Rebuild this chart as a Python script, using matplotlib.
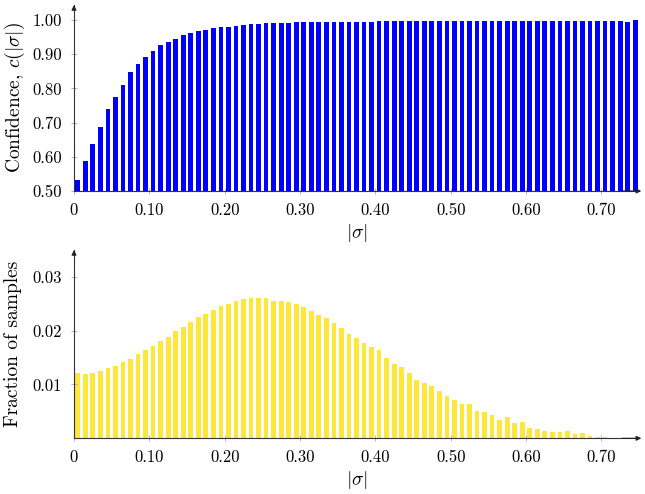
import numpy as np
import matplotlib
matplotlib.use("Agg")
import matplotlib.pyplot as plt

plt.rcParams["font.family"] = "serif"
plt.rcParams["font.serif"] = ["cmr10"]
plt.rcParams["mathtext.fontset"] = "cm"
plt.rcParams["axes.unicode_minus"] = False

# bin centres of |sigma| (bins of width 0.01)
sigma_bins = np.round(np.arange(75) * 0.01 + 0.005, 3)

confidence = [
    0.532, 0.587, 0.638, 0.687, 0.739, 0.775, 0.811, 0.847, 0.871, 0.891,
    0.910, 0.926, 0.936, 0.946, 0.957, 0.963, 0.969, 0.972, 0.976, 0.980,
    0.981, 0.984, 0.986, 0.987, 0.989, 0.990, 0.992, 0.992, 0.992, 0.993,
    0.993, 0.993, 0.994, 0.994, 0.994, 0.995, 0.995, 0.995, 0.995, 0.995,
    0.996, 0.996, 0.996, 0.996, 0.996, 0.996, 0.996, 0.997, 0.997, 0.997,
    0.997, 0.997, 0.997, 0.997, 0.997, 0.997, 0.996, 0.997, 0.997, 0.997,
    0.998, 0.998, 0.998, 0.998, 0.998, 0.998, 0.998, 0.998, 0.998, 0.998,
    0.998, 0.998, 0.998, 0.994, 0.999,
]

fraction = [
    0.0122, 0.0120, 0.0121, 0.0125, 0.0130, 0.0135, 0.0141, 0.0147, 0.0156, 0.0165,
    0.0172, 0.0180, 0.0189, 0.0199, 0.0206, 0.0216, 0.0225, 0.0231, 0.0238, 0.0245,
    0.0250, 0.0255, 0.0258, 0.0260, 0.0260, 0.0260, 0.0256, 0.0255, 0.0253, 0.0250,
    0.0244, 0.0237, 0.0230, 0.0223, 0.0215, 0.0205, 0.0194, 0.0186, 0.0178, 0.0169,
    0.0165, 0.0150, 0.0139, 0.0133, 0.0121, 0.0108, 0.0102, 0.0098, 0.0088, 0.0078,
    0.0071, 0.0064, 0.0064, 0.0050, 0.0048, 0.0043, 0.0034, 0.0039, 0.0029, 0.0030,
    0.0019, 0.0017, 0.0014, 0.0012, 0.0012, 0.0014, 0.0008, 0.0010, 0.0005, 0.0002,
    0.0003, 0.0001, 0.00005, 0.00003, 0.00002,
]

x_ticks = [0, 0.1, 0.2, 0.3, 0.4, 0.5, 0.6, 0.7]
x_ticklabels = ["0", "0.10", "0.20", "0.30", "0.40", "0.50", "0.60", "0.70"]
conf_ticks = [0.5, 0.6, 0.7, 0.8, 0.9, 1.0]
conf_ticklabels = ["0.50", "0.60", "0.70", "0.80", "0.90", "1.00"]
frac_ticks = [0.01, 0.02, 0.03]
frac_ticklabels = ["0.01", "0.02", "0.03"]

BAR_W = 0.0062
BLUE = "#0000ff"
YELLOW = "#fde73a"
TICK_FS = 12
LABEL_FS = 14


def style_axes(ax):
    for side in ["top", "right"]:
        ax.spines[side].set_visible(False)
    for side in ["left", "bottom"]:
        ax.spines[side].set_color("#333333")
        ax.spines[side].set_linewidth(0.8)
    ax.tick_params(direction="inout", length=4, width=0.6, color="#aaaaaa",
                   labelsize=TICK_FS, pad=6.5)
    # arrow heads at the end of both axis lines
    ax.annotate("", xy=(0, 1.0), xytext=(0, 0.97), xycoords="axes fraction",
                arrowprops=dict(arrowstyle="-|>", color="#222222", lw=0.8,
                                mutation_scale=7, shrinkA=0, shrinkB=0))
    ax.annotate("", xy=(1.004, 0), xytext=(0.97, 0), xycoords="axes fraction",
                arrowprops=dict(arrowstyle="-|>", color="#222222", lw=0.8,
                                mutation_scale=7, shrinkA=0, shrinkB=0))


fig = plt.figure(figsize=(6.45, 4.94), dpi=100)

ax1 = fig.add_axes([74 / 645, 1 - 191 / 494, 565 / 645, 186 / 494])
ax1.bar(sigma_bins, np.array(confidence) - 0.5, bottom=0.5, width=BAR_W,
        color=BLUE, edgecolor="none")
ax1.set_xlim(0, 0.75)
ax1.set_ylim(0.5, 1.044)
ax1.set_xticks(x_ticks)
ax1.set_xticklabels(x_ticklabels)
ax1.set_yticks(conf_ticks)
ax1.set_yticklabels(conf_ticklabels)
ax1.set_xlabel(r"$|\sigma|$", fontsize=LABEL_FS, labelpad=2.5)
ax1.set_ylabel(r"Confidence, $c(|\sigma|)$", fontsize=LABEL_FS, labelpad=4)
style_axes(ax1)

ax2 = fig.add_axes([74 / 645, 1 - 438.3 / 494, 565 / 645, 188.3 / 494])
ax2.bar(sigma_bins, fraction, width=BAR_W, color=YELLOW, edgecolor="none")
ax2.set_xlim(0, 0.75)
ax2.set_ylim(0, 0.035)
ax2.set_xticks(x_ticks)
ax2.set_xticklabels(x_ticklabels)
ax2.set_yticks(frac_ticks)
ax2.set_yticklabels(frac_ticklabels)
ax2.set_xlabel(r"$|\sigma|$", fontsize=LABEL_FS, labelpad=2.5)
ax2.set_ylabel("Fraction of samples", fontsize=LABEL_FS, labelpad=8)
style_axes(ax2)

fig.savefig("out.png", dpi=100)
